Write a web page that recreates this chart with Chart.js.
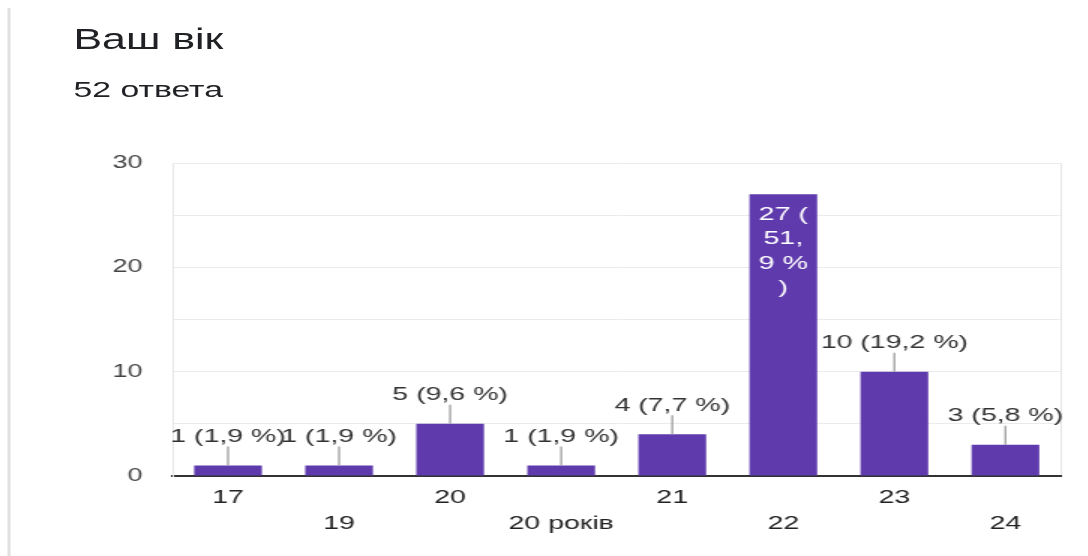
<!DOCTYPE html>
<html>
<head>
<meta charset="utf-8">
<script src="https://cdn.jsdelivr.net/npm/chart.js@4"></script>
<style>
  html, body { margin: 0; padding: 0; background: #fff; }
  body { width: 1088px; height: 556px; overflow: hidden; position: relative; font-family: "Liberation Sans", Arial, sans-serif; }
  /* the whole card is drawn 1.5x wider than tall */
  #card { position: absolute; left: 0; top: 0; width: 725px; height: 556px; transform: scaleX(1.5); transform-origin: 0 0; }
  #edge { position: absolute; left: 5.3px; top: 8px; bottom: 0; width: 2px; background: #e0e0e0; }
  #title { position: absolute; left: 49px; top: 25.3px; font-size: 28.6px; line-height: 1; color: #202124; white-space: nowrap; }
  #count { position: absolute; left: 49px; top: 79.2px; font-size: 22.5px; line-height: 1; color: #202124; white-space: nowrap; }
  #wrap { position: absolute; left: 0; top: 130px; width: 725px; height: 426px; }
</style>
</head>
<body>
<div id="card">
  <div id="edge"></div>
  <div id="title">Ваш вік</div>
  <div id="count">52 ответа</div>
  <div id="wrap"><canvas id="ageChart"></canvas></div>
</div>
<script>
const ages = ['17', '19', '20', '20 років', '21', '22', '23', '24'];
const answers = [1, 1, 5, 1, 4, 27, 10, 3];
const yTicks = [0, 10, 20, 30];

const total = answers.reduce((a, b) => a + b, 0);
const FONT = '"Liberation Sans", Arial, sans-serif';

// alternate labels between two rows so they don't collide
const xLabels = ages.map((a, i) => i % 2 === 0 ? [a] : ['', a]);

function labelText(v) {
  const pct = (v / total * 100).toFixed(1).replace('.', ',');
  return v + ' (' + pct + ' %)';
}

// greedy character wrap for labels that sit inside a bar
function wrapText(ctx, text, maxW) {
  const lines = [];
  let cur = '';
  for (const ch of text) {
    if (cur && ctx.measureText(cur + ch).width > maxW) {
      lines.push(cur.trim());
      cur = ch === ' ' ? '' : ch;
    } else {
      cur += ch;
    }
  }
  if (cur) lines.push(cur.trim());
  return lines;
}

const barLabels = {
  id: 'barLabels',
  afterDatasetsDraw(chart) {
    const ctx = chart.ctx;
    const meta = chart.getDatasetMeta(0);
    ctx.save();
    ctx.font = '19px ' + FONT;
    ctx.textAlign = 'center';
    ctx.textBaseline = 'middle';
    meta.data.forEach((bar, i) => {
      const text = labelText(answers[i]);
      if (bar.y - 38 < chart.chartArea.top) {
        ctx.fillStyle = '#ffffff';
        const lines = wrapText(ctx, text, bar.width - 10);
        lines.forEach((ln, k) => ctx.fillText(ln, bar.x, bar.y + 20 + k * 24.5));
      } else {
        ctx.strokeStyle = '#9e9e9e';
        ctx.lineWidth = 1.3;
        ctx.beginPath();
        ctx.moveTo(bar.x, bar.y);
        ctx.lineTo(bar.x, bar.y - 19);
        ctx.stroke();
        ctx.fillStyle = '#333333';
        ctx.fillText(text, bar.x, bar.y - 29);
      }
    });
    ctx.restore();
  }
};

new Chart(document.getElementById('ageChart'), {
  type: 'bar',
  data: {
    labels: xLabels,
    datasets: [{
      data: answers,
      backgroundColor: '#5f3aad',
      barPercentage: 0.61,
      categoryPercentage: 1
    }]
  },
  options: {
    responsive: true,
    maintainAspectRatio: false,
    animation: false,
    layout: { padding: { top: 33, right: 17.7, bottom: 0, left: 0 } },
    plugins: { legend: { display: false }, tooltip: { enabled: false } },
    scales: {
      x: {
        offset: true,
        grid: {
          offset: true,
          drawTicks: false,
          color: c => c.type === 'tick' ? 'transparent' : '#e6e6e6'
        },
        border: { display: true, color: '#333333', width: 2 },
        ticks: {
          autoSkip: false,
          maxRotation: 0,
          padding: 9.5,
          color: '#222222',
          font: { family: FONT, size: 19, lineHeight: 1.33 }
        },
        afterFit: s => { s.height = 80; }
      },
      y: {
        min: 0,
        max: yTicks[yTicks.length - 1],
        grid: {
          drawTicks: false,
          color: c => c.tick && c.tick.value === 0 ? 'transparent' : '#ebebeb'
        },
        border: { display: true, color: '#e6e6e6', width: 1 },
        ticks: {
          stepSize: 5,
          padding: 20,
          color: '#444444',
          font: { family: FONT, size: 18 },
          callback: v => yTicks.includes(v) ? v : ''
        },
        afterFit: s => { s.width = 115; }
      }
    }
  },
  plugins: [barLabels]
});
</script>
</body>
</html>
